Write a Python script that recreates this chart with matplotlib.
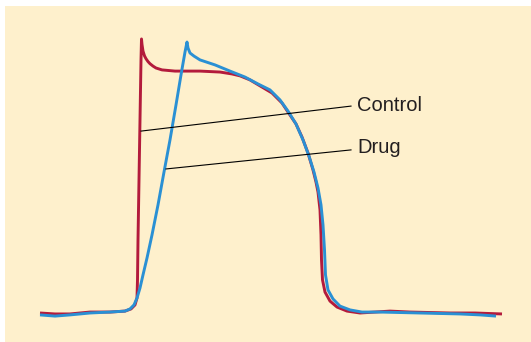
import matplotlib
matplotlib.use("Agg")
import matplotlib.pyplot as plt
from matplotlib.patches import Rectangle

# time (ms) and membrane potential (mV) for the control action potential
control_t = [0, 15, 30, 50, 70, 85, 91, 95, 97, 97.5, 98, 99, 100, 101, 101.5,
             102, 103, 104.5, 106, 108, 110, 113, 116, 122, 135, 160, 180, 192,
             200, 210, 222, 232, 242, 248, 256, 262, 268, 273, 276, 278, 280,
             281, 281.5, 282.5, 285, 290, 297, 307, 320, 335, 350, 370, 390,
             410, 435, 462]
control_v = [-85.0, -85.4, -85.4, -84.6, -84.6, -84.2, -83.3, -81.6, -78.7,
             -71.1, -54.3, -29.1, -3.9, 21.3, 30.1,
             27.8, 25.0, 23.0, 21.8, 20.6, 19.7, 18.7, 17.9, 17.1, 16.6, 16.6,
             16.2, 15.4, 14.6, 12.9, 9.9, 7.4, 3.2, -0.6, -5.6, -11.1, -17.8,
             -24.9, -30.0, -34.2, -41.7, -52.2, -62.7, -71.1, -76.2, -80.0,
             -82.5, -84.2, -85.0, -84.6, -84.2, -84.6, -84.8, -85.0, -85.0,
             -85.4]

# drug-treated action potential: slower upstroke, slightly later repolarisation
drug_t = [0, 15, 30, 50, 70, 85, 90, 94, 97, 100, 103, 107, 112, 118, 124,
          130, 136, 141, 145, 147, 148, 150, 154, 160, 175, 190, 205, 218, 230,
          240, 248, 256, 263, 269, 274, 278, 281, 283, 284.5, 285.5, 288, 293,
          300, 310, 322, 340, 360, 380, 400, 420, 440, 456]
drug_v = [-85.8, -86.3, -85.8, -85.0, -84.6, -84.2, -83.3, -81.6, -78.7, -74.5,
          -69.0, -61.9, -52.2, -39.6, -25.8, -12.3, 2.4, 15.0, 24.6, 28.8,
          26.3, 24.2, 22.9, 21.3, 19.2, 16.6, 14.1, 11.2, 8.7, 4.5, -0.2, -5.6,
          -12.3, -19.1, -25.8, -32.5, -39.6, -48.0, -58.5, -69.0, -75.3, -79.1,
          -82.1, -83.7, -84.6, -84.6, -84.8, -85.0, -85.2, -85.4, -85.8, -86.3]

labels = ["Control", "Drug"]
# where each leader line touches its trace, and where its label sits
leader_start = [(101, -8.6), (126, -24.5)]
leader_end = [(311, 1.9), (311, -16.5)]
label_base = [-0.2, -17.8]

red = "#b31b3c"
blue = "#2a90d4"
panel = "#fef0cc"

fig = plt.figure(figsize=(5.31, 3.42), dpi=100)
fig.patch.set_facecolor("white")
fig.patches.append(Rectangle((5 / 531, 0), 1, 1 - 6 / 342,
                             transform=fig.transFigure, facecolor=panel,
                             edgecolor="none", zorder=-1))

ax = fig.add_axes([0, 0, 1, 1])
ax.patch.set_visible(False)
ax.set_xlim(-40, 491)
ax.set_ylim(-97.18, 46.46)
ax.axis("off")

ax.plot(control_t, control_v, color=red, lw=2.1, solid_capstyle="butt",
        solid_joinstyle="round", zorder=2)
ax.plot(drug_t, drug_v, color=blue, lw=2.1, solid_capstyle="butt",
        solid_joinstyle="round", zorder=3)

for name, p0, p1, yb in zip(labels, leader_start, leader_end, label_base):
    ax.plot([p0[0], p1[0]], [p0[1], p1[1]], color="black", lw=0.8, zorder=4)
    ax.text(p1[0] + 6, yb, name, fontsize=14.5, family="Liberation Sans",
            color="#231f20", ha="left", va="baseline")

fig.savefig("out.png", dpi=100)
